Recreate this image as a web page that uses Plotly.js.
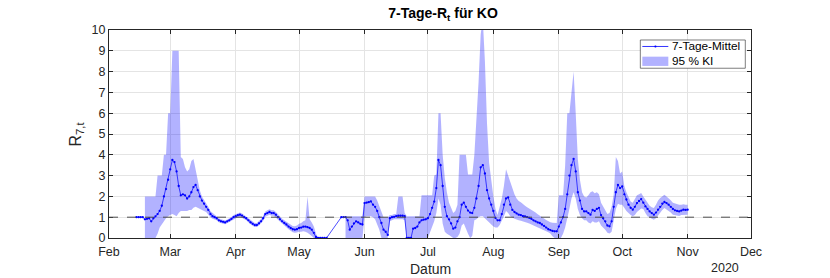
<!DOCTYPE html>
<html><head><meta charset="utf-8">
<script src="https://cdn.plot.ly/plotly-3.0.1.min.js"></script>
<style>html,body{margin:0;padding:0;background:#fff}#plot{width:830px;height:278px}</style>
</head><body><div id="plot"></div>
<script>
// daily values starting 2020-02-14 (null = no data)
const startDate = '2020-02-14';
const meanR = [
// Feb 14-29
1.0,1.0,1.0,1.0,0.9,0.92,0.95,0.8,0.95,1.04,1.15,1.3,1.55,2.0,2.35,2.8,
// Mar
3.3,3.75,3.65,3.2,2.5,2.05,2.1,2.05,1.9,2.0,2.2,2.45,2.55,2.3,2.0,1.8,1.65,1.5,1.35,1.15,1.05,1.0,0.95,0.85,0.8,0.78,0.75,0.8,0.85,0.92,1.0,
// Apr
1.05,1.1,1.12,1.08,1.0,0.95,0.85,0.75,0.68,0.62,0.62,0.7,0.8,0.95,1.15,1.2,1.25,1.2,1.2,1.12,1.0,0.9,0.8,0.72,0.65,0.55,0.48,0.42,0.4,0.42,
// May
0.48,0.5,0.55,0.55,0.52,0.48,0.4,0.25,0.05,0,0,0,0,0,null,null,null,null,null,null,1.0,1.0,1.0,0.85,0.4,0.55,0.7,0.8,0.75,0.68,0.65,
// Jun
1.68,1.7,1.72,1.76,1.6,1.5,1.3,1.0,0.72,0.4,0.3,0.15,0.95,1.0,1.02,1.05,1.07,1.07,1.07,1.05,0,0,0,0.45,0.48,0.55,0.75,0.85,0.88,0.9,
// Jul
0.95,1.15,1.45,1.75,2.4,3.75,3.5,2.5,1.5,1.05,0.9,0.7,0.45,0.5,0.8,1.0,1.6,1.7,1.5,1.32,1.22,1.2,1.45,1.9,2.5,3.4,3.5,3.1,2.3,1.9,1.6,
// Aug
1.3,0.96,0.85,0.85,1.15,1.6,1.9,1.95,1.6,1.35,1.25,1.18,1.12,1.1,1.05,1.04,1.0,0.97,0.92,0.85,0.8,0.75,0.72,0.65,0.58,0.5,0.42,0.38,0.34,0.32,0.32,
// Sep
0.55,0.75,1.0,1.4,2.1,3.0,3.5,3.8,3.2,2.2,1.8,1.4,1.28,1.28,1.2,1.12,1.35,1.3,1.4,1.45,1.1,0.95,0.8,0.6,0.56,0.8,1.5,2.2,2.55,2.4,
// Oct
2.48,2.1,1.85,1.6,1.45,1.36,1.5,1.68,1.78,1.87,1.7,1.52,1.4,1.28,1.2,1.12,1.22,1.36,1.5,1.65,1.73,1.68,1.6,1.5,1.4,1.33,1.3,1.28,1.32,1.36,1.35,
// Nov 1
1.36
];
const loR = [
null,null,null,null,0,0,0,0,0,0,0.2,0.5,0.7,0.8,0.95,1.05,
1.1,1.15,1.1,1.05,1.2,1.3,1.3,1.3,1.3,1.35,1.35,1.45,1.5,1.45,1.4,1.35,1.3,1.25,1.15,1.0,0.92,0.88,0.85,0.76,0.71,0.69,0.66,0.71,0.76,0.83,0.9,
0.95,1.0,1.02,0.98,0.9,0.85,0.76,0.66,0.59,0.53,0.53,0.6,0.69,0.83,1.02,1.07,1.12,1.07,1.07,0.99,0.88,0.78,0.68,0.6,0.52,0.42,0.34,0.28,0.25,0.26,
0.3,0.3,0.32,0.3,0.25,0.2,0.1,0,0,0,0,0,0,0,null,null,null,null,null,null,null,null,0,0,0,0,0,0,0,0,0,
1.0,1.05,1.05,1.05,1.0,0.9,0.7,0.4,0,0,0,0,0.8,0.85,0.9,0.9,0.9,0.9,0.9,0.85,0,0,0,0,0,0,0,0,0,0,
0,0.3,0.5,0.8,1.2,1.9,1.6,0.7,0.3,0.2,0.15,0.1,0,0,0.05,0.2,0.6,0.7,0.5,0.2,0,0.1,0.85,0.9,1.0,1.05,1.05,0.95,0.88,0.75,0.65,
0.55,0.5,0.5,0.62,0.8,1.05,1.3,1.2,1.05,0.98,0.92,0.88,0.85,0.83,0.8,0.77,0.73,0.7,0.67,0.64,0.58,0.52,0.47,0.42,0.38,0.33,0.28,0.22,0.08,0,0,
0,0,0.2,0.5,0.9,1.4,1.9,2.2,1.9,1.4,1.1,0.95,0.85,0.85,0.75,0.7,0.8,0.75,0.75,0.8,0.6,0.5,0.4,0.25,0.22,0.3,0.9,1.4,1.65,1.6,
1.6,1.45,1.3,1.2,1.1,1.04,1.1,1.25,1.35,1.42,1.4,1.2,1.05,1.0,0.92,0.88,0.95,1.08,1.2,1.35,1.44,1.38,1.3,1.22,1.12,1.1,1.08,1.06,1.1,1.12,1.12,
1.12
];
const hiR = [
null,null,null,null,2,2,2,2,2,2,3,3,3,4,4,6,
6,9,9,9,9,3.9,3.8,3.4,3.2,3.3,3.7,3.8,3.3,2.9,2.3,2.0,1.85,1.65,1.5,1.3,1.2,1.12,1.05,0.95,0.9,0.87,0.84,0.89,0.94,1.01,1.1,
1.15,1.2,1.22,1.18,1.1,1.05,0.95,0.85,0.78,0.72,0.72,0.8,0.91,1.07,1.28,1.33,1.38,1.33,1.33,1.25,1.13,1.03,0.93,0.85,0.79,0.7,0.63,0.58,0.57,0.6,
0.68,0.72,0.8,0.85,2.0,0.9,0.75,0.55,0.2,0.03,0.03,0.03,0.03,0.03,null,null,null,null,null,null,null,null,1.05,1.05,1.05,1.05,1.05,1.05,1.05,1.05,1.05,
2.0,2.0,2.0,2.0,2.0,2.0,1.8,1.5,1.2,1.0,1.0,1.0,1.1,1.1,1.15,1.15,2.0,2.0,2.0,1.2,1.05,1.05,1.05,1.05,1.05,1.05,1.05,2.05,2.05,2.05,
2.05,2.05,2.05,3.0,3.05,6.0,6.0,4.0,2.9,2.2,1.7,1.45,1.2,1.3,1.6,4.0,4.0,4.0,4.0,3.05,3.05,3.05,4.0,5.5,7.5,9.8,10.5,8.5,5.5,3.6,2.7,
2.0,1.4,1.1,1.5,1.9,2.5,3.3,3.0,2.7,2.3,2.1,1.9,1.78,1.72,1.62,1.55,1.48,1.42,1.35,1.28,1.22,1.14,1.06,1.0,0.94,0.87,0.8,0.76,0.73,0.72,0.72,
2.05,2.05,2.05,3.5,6.0,6.0,7.0,8.0,6.0,3.8,2.8,2.2,2.0,1.95,2.05,2.2,2.25,2.15,2.2,2.1,1.7,1.5,1.35,1.15,1.2,1.5,2.1,3.9,3.7,3.1,
3.2,2.5,2.2,1.95,1.75,1.7,1.85,2.05,2.1,2.16,2.0,1.84,1.7,1.55,1.48,1.44,1.6,1.8,1.92,2.02,2.08,2.0,1.92,1.82,1.7,1.66,1.62,1.6,1.6,1.62,1.6,
1.6
];
const monthTicks = ['2020-02-01','2020-03-01','2020-04-01','2020-05-01','2020-06-01','2020-07-01','2020-08-01','2020-09-01','2020-10-01','2020-11-01','2020-12-01'];
const monthLabels = ['Feb','Mar','Apr','May','Jun','Jul','Aug','Sep','Oct','Nov','Dec'];
const yTicks = [0,1,2,3,4,5,6,7,8,9,10];
const seriesNames = ['7-Tage-Mittel', '95 % KI'];

const t0 = Date.parse(startDate + 'T00:00:00Z');
const dates = meanR.map((_, i) => new Date(t0 + i * 86400000).toISOString().slice(0, 10));

// band polygon(s): hi forward, lo backward, per contiguous segment
const bx = [], by = [];
let i = 0;
while (i < dates.length) {
  if (loR[i] === null || hiR[i] === null) { i++; continue; }
  let j = i;
  while (j + 1 < dates.length && loR[j + 1] !== null && hiR[j + 1] !== null) j++;
  for (let k = i; k <= j; k++) { bx.push(dates[k]); by.push(hiR[k]); }
  for (let k = j; k >= i; k--) { bx.push(dates[k]); by.push(loR[k]); }
  bx.push(null); by.push(null);
  i = j + 1;
}

const font = 'Liberation Sans, Arial, Helvetica, sans-serif';
const axCol = '#262626';
const bandCol = 'rgba(0,0,255,0.3)';
const L = 108.5, R = 750.7, T = 30, B = 238.3;
const px2x = p => (p - L) / (R - L);
const px2y = p => (B - p) / (B - T);

const traces = [
  { x: bx, y: by, type: 'scatter', mode: 'lines', fill: 'toself',
    fillcolor: bandCol, line: { width: 0, color: 'rgba(0,0,255,0)' },
    name: seriesNames[1], showlegend: false, hoverinfo: 'skip' },
  { x: dates, y: meanR, type: 'scatter', mode: 'lines+markers', connectgaps: true,
    line: { color: 'rgb(0,0,255)', width: 0.7 }, marker: { color: 'rgb(0,0,255)', size: 2.3 },
    name: seriesNames[0], showlegend: false }
];

// legend box (pixel geometry)
const lg = { x0: 640, x1: 745, y0: 40, y1: 68.3 };
const shapes = [
  { type: 'line', xref: 'paper', x0: 0, x1: 1, yref: 'y', y0: 1, y1: 1,
    line: { color: '#4d4d4d', width: 1, dash: 'dash' }, layer: 'above' },
  { type: 'rect', xref: 'paper', yref: 'paper', x0: px2x(lg.x0), x1: px2x(lg.x1), y0: px2y(lg.y1), y1: px2y(lg.y0),
    fillcolor: '#fff', line: { color: axCol, width: 0.6 }, layer: 'above' },
  { type: 'line', xref: 'paper', yref: 'paper', x0: px2x(642), x1: px2x(668), y0: px2y(46.5), y1: px2y(46.5),
    line: { color: 'rgb(0,0,255)', width: 0.8 }, layer: 'above' },
  { type: 'circle', xref: 'paper', yref: 'paper', x0: px2x(654), x1: px2x(656.2), y0: px2y(47.6), y1: px2y(45.4),
    fillcolor: 'rgb(0,0,255)', line: { width: 0 }, layer: 'above' },
  { type: 'rect', xref: 'paper', yref: 'paper', x0: px2x(642), x1: px2x(668), y0: px2y(66), y1: px2y(56.7),
    fillcolor: bandCol, line: { width: 0 }, layer: 'above' }
];

const layout = {
  width: 830, height: 278,
  margin: { l: L, r: 830 - R, t: T, b: 278 - B, pad: 0 },
  paper_bgcolor: '#fff', plot_bgcolor: '#fff',
  font: { family: font, size: 12, color: axCol },
  showlegend: false,
  title: { text: '<b>7-Tage-R<sub>t</sub> für KO</b>', font: { family: font, size: 14, color: '#000' },
           x: 443 / 830, xref: 'container', xanchor: 'center', y: 1 - 13 / 278, yref: 'container', yanchor: 'middle' },
  xaxis: { type: 'date', range: ['2020-02-01', '2020-12-01'], tickvals: monthTicks, ticktext: monthLabels,
           showgrid: true, gridcolor: '#e4e4e4', gridwidth: 1, zeroline: false,
           showline: true, linecolor: axCol, linewidth: 1, mirror: 'ticks',
           ticks: 'inside', ticklen: 4, tickcolor: axCol, ticklabelstandoff: 2,
           tickfont: { size: 12.5, color: axCol } },
  yaxis: { range: [0, 10], tickvals: yTicks, ticktext: yTicks.map(String),
           showgrid: true, gridcolor: '#e4e4e4', gridwidth: 1, zeroline: false,
           showline: true, linecolor: axCol, linewidth: 1, mirror: 'ticks',
           ticks: 'inside', ticklen: 4, tickcolor: axCol, tickfont: { size: 12.5, color: axCol } },
  shapes: shapes,
  annotations: [
    { text: 'Datum', xref: 'paper', yref: 'paper', x: 0.5, y: px2y(269), xanchor: 'center', yanchor: 'middle',
      showarrow: false, font: { size: 14, color: axCol } },
    { text: '2020', xref: 'paper', yref: 'paper', x: px2x(724.7), y: px2y(268), xanchor: 'center', yanchor: 'middle',
      showarrow: false, font: { size: 12.5, color: axCol } },
    { text: 'R<sub>7,t</sub>', xref: 'paper', yref: 'paper', x: px2x(75), y: 0.5, xanchor: 'center', yanchor: 'middle',
      textangle: -90, showarrow: false, font: { size: 16, color: axCol } },
    { text: seriesNames[0], xref: 'paper', yref: 'paper', x: px2x(670), y: px2y(46.5), xanchor: 'left', yanchor: 'middle',
      showarrow: false, font: { size: 11.8, color: '#000' } },
    { text: seriesNames[1], xref: 'paper', yref: 'paper', x: px2x(670), y: px2y(61.5), xanchor: 'left', yanchor: 'middle',
      showarrow: false, font: { size: 11.8, color: '#000' } }
  ]
};

Plotly.newPlot('plot', traces, layout, { staticPlot: true, displayModeBar: false });
</script></body></html>
